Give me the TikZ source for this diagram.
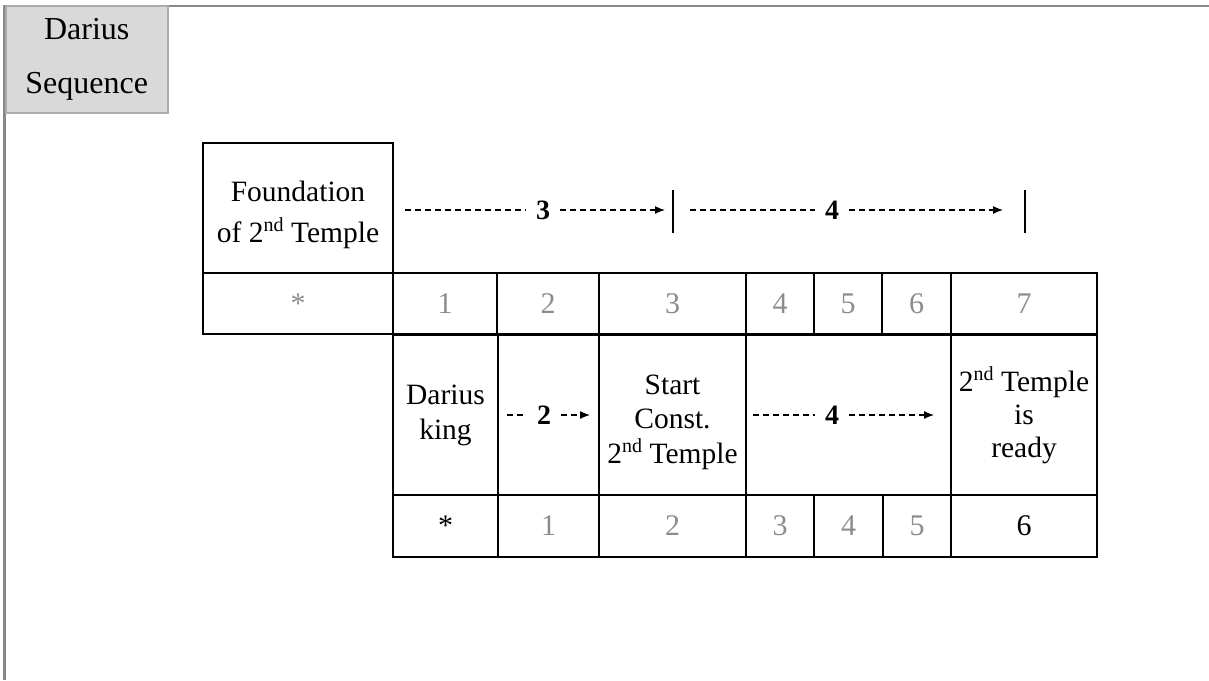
\documentclass[tikz,border=0pt]{standalone}
\usepackage{fontspec}
\setmainfont{Liberation Serif}
\usetikzlibrary{arrows.meta}
\definecolor{framegray}{RGB}{136,136,136}
\definecolor{boxfill}{RGB}{217,217,217}
\definecolor{boxline}{RGB}{172,172,172}
\definecolor{numgray}{RGB}{140,140,140}
\newcommand\mycell[7]{\node[#6, minimum width={#4-#2}, minimum height={#5-#3}] (#1) at ({(#2+#4)/2},{(#3+#5)/2}) {#7};}
\newcommand\sups[1]{\raisebox{11pt}{\fontsize{20}{20}\selectfont #1}}
\newcommand\topstrut[1]{\rule{0pt}{#1}}
\begin{document}
\begin{tikzpicture}[x=1pt,y=-1pt,
  cell/.style={draw=black, line width=1.7pt, inner sep=0pt, align=center, font=\fontsize{29.5}{34}\selectfont},
  num/.style={cell, text=numgray, font=\fontsize{30}{34}\selectfont},
  blk/.style={cell, font=\fontsize{30}{34}\selectfont},
  hdr/.style={draw=boxline, fill=boxfill, line width=2pt, inner sep=0pt, align=center, font=\fontsize{32}{54}\selectfont},
  lbl/.style={inner xsep=10pt, inner ysep=2pt, font=\fontsize{28}{30}\selectfont\bfseries},
  dasharrow/.style={line width=1.3pt, dash pattern=on 6pt off 4pt},
  tip/.style={dasharrow, -{Latex[length=10pt,width=8pt]}},
  bar/.style={line width=1.7pt}]
\useasboundingbox (0,0) rectangle (1209,680);
% frame
\coordinate (fbl) at (4.5,680);
\coordinate (ftl) at (4.5,6);
\coordinate (ftr) at (1209,6);
\draw[framegray, line width=2.2pt] (fbl) -- (ftl) -- (ftr);
% header
\mycell{hdr}{5.5}{6}{168}{113}{hdr}{Darius\\Sequence}
% top section
\mycell{found}{203}{143}{393}{273}{cell, font=\fontsize{29.5}{41}\selectfont}{\topstrut{35pt}Foundation\\of 2\sups{nd} Temple}
\mycell{ts}{203}{273}{393}{334}{num}{*}
\mycell{t1}{393}{273}{497}{334}{num}{1}
\mycell{t2}{497}{273}{599}{334}{num}{2}
\mycell{t3}{599}{273}{746}{334}{num}{3}
\mycell{t4}{746}{273}{814}{334}{num}{4}
\mycell{t5}{814}{273}{882}{334}{num}{5}
\mycell{t6}{882}{273}{951}{334}{num}{6}
\mycell{t7}{951}{273}{1097}{334}{num}{7}
% top arrows
\coordinate (a1s) at (405,210);
\node[lbl] (n3) at (543,210) {3};
\coordinate (a1e) at (665,210);
\draw[dasharrow] (a1s) -- (n3.west);
\draw[tip] (n3.east) -- (a1e);
\coordinate (b1t) at (673,190);
\coordinate (b1b) at (673,233);
\draw[bar] (b1t) -- (b1b);
\coordinate (a2s) at (690,210);
\node[lbl] (n4) at (832,210) {4};
\coordinate (a2e) at (1003,210);
\draw[dasharrow] (a2s) -- (n4.west);
\draw[tip] (n4.east) -- (a2e);
\coordinate (b2t) at (1025,190);
\coordinate (b2b) at (1025,233);
\draw[bar] (b2t) -- (b2b);
% bottom section
\mycell{dk}{393}{335.5}{498}{495}{cell, font=\fontsize{29.5}{35}\selectfont}{Darius\\king}
\mycell{ar2}{498}{335.5}{599}{495}{cell}{}
\mycell{sc}{599}{335.5}{746}{495}{cell, font=\fontsize{29.5}{34.5}\selectfont}{\topstrut{33pt}Start\\Const.\\2\sups{nd} Temple}
\mycell{ar4}{746}{335.5}{951}{495}{cell}{}
\mycell{rd}{951}{335.5}{1097}{495}{cell, font=\fontsize{29.5}{33}\selectfont}{2\sups{nd} Temple\\is\\ready}
\mycell{bs}{393}{495}{498}{557}{blk}{*}
\mycell{b1}{498}{495}{599}{557}{num}{1}
\mycell{b2}{599}{495}{746}{557}{num}{2}
\mycell{b3}{746}{495}{814}{557}{num}{3}
\mycell{b4}{814}{495}{883}{557}{num}{4}
\mycell{b5}{883}{495}{951}{557}{num}{5}
\mycell{b6}{951}{495}{1097}{557}{blk}{6}
% bottom arrows
\coordinate (c1s) at (507,415);
\node[lbl] (m2) at (544,415) {2};
\coordinate (c1e) at (590,415);
\draw[dasharrow] (c1s) -- (m2.west);
\draw[tip] (m2.east) -- (c1e);
\coordinate (c2s) at (753,415);
\node[lbl] (m4) at (832,415) {4};
\coordinate (c2e) at (934,415);
\draw[dasharrow] (c2s) -- (m4.west);
\draw[tip] (m4.east) -- (c2e);
\end{tikzpicture}
\end{document}
